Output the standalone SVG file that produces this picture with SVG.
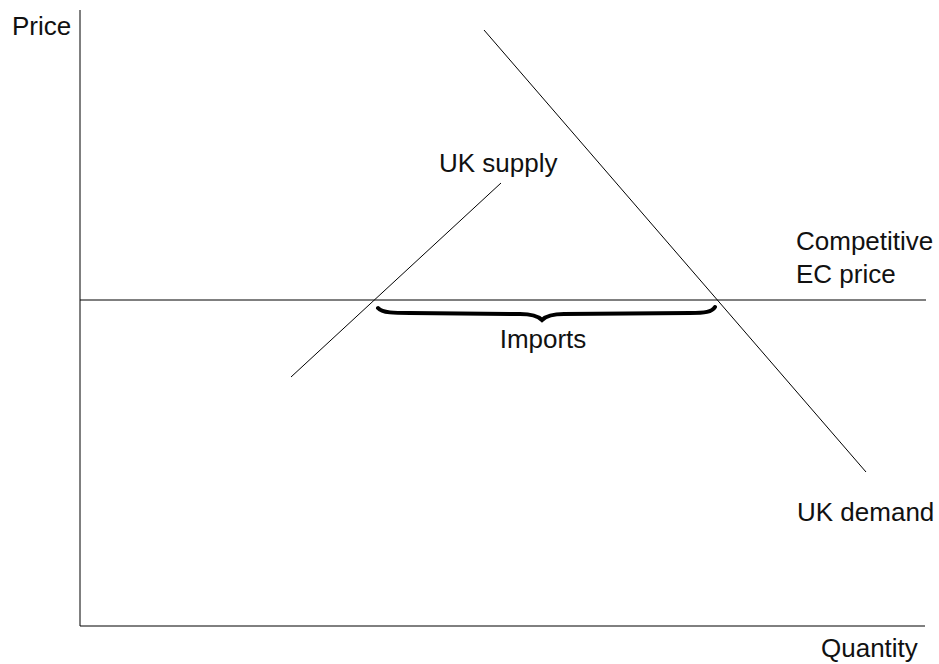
<svg xmlns="http://www.w3.org/2000/svg" width="939" height="664" viewBox="0 0 939 664">
<style>
text{font-family:"Liberation Sans",Arial,sans-serif;font-size:26px;fill:#111}
.ln{stroke:#000;stroke-width:1;fill:none}
</style>
<rect width="939" height="664" fill="#fff"/>
<g id="axes">
<line class="ln" x1="80" y1="10" x2="80" y2="626" stroke="#555" stroke-width="1.5"/>
<line class="ln" x1="80" y1="626" x2="925" y2="626"/>
<text x="12" y="35">Price</text>
<text x="821" y="657">Quantity</text>
</g>
<g id="ec-price">
<line class="ln" x1="80" y1="300" x2="926" y2="300" stroke="#777" stroke-width="1.5"/>
<text x="796" y="250">Competitive</text>
<text x="796" y="283">EC price</text>
</g>
<g id="uk-supply">
<line class="ln" x1="291" y1="377" x2="501" y2="183"/>
<text x="439" y="172">UK supply</text>
</g>
<g id="uk-demand">
<line class="ln" x1="484" y1="30" x2="866" y2="472"/>
<text x="797" y="521">UK demand</text>
</g>
<g id="imports">
<path d="M378,308 C382,313 395,313 410,313 L520,314 C532,314 538,316 542,320 C546,316 552,314 564,314 L690,313 C705,313 712,312 715,307" fill="none" stroke="#000" stroke-width="4" stroke-linecap="round"/>
<text x="543" y="348" text-anchor="middle">Imports</text>
</g>
</svg>
